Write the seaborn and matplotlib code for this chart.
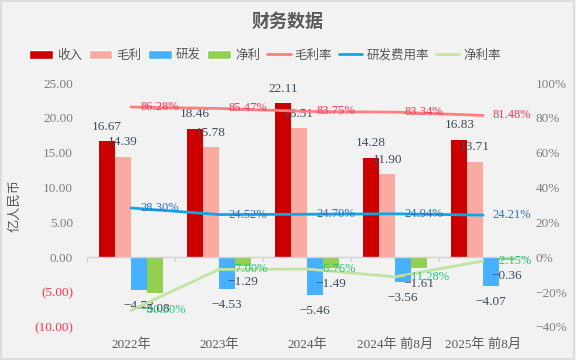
import numpy as np
import pandas as pd
import matplotlib
matplotlib.use("Agg")
import matplotlib.pyplot as plt
from matplotlib.lines import Line2D
from matplotlib.patches import Patch
from matplotlib.ticker import FuncFormatter
import seaborn as sns

# data
periods = ["2022年", "2023年", "2024年", "2024年 前8月", "2025年 前8月"]
revenue = [16.67, 18.46, 22.11, 14.28, 16.83]
gross_profit = [14.39, 15.78, 18.51, 11.90, 13.71]
rnd = [-4.72, -4.53, -5.46, -3.56, -4.07]
net_profit = [-5.08, -1.29, -1.49, -1.61, -0.36]
gross_margin = [86.28, 85.47, 83.75, 83.34, 81.48]
rnd_ratio = [28.30, 24.52, 24.70, 24.94, 24.21]
net_margin = [-30.50, -7.00, -6.76, -11.28, -2.15]

bar_names = ["收入", "毛利", "研发", "净利"]
bar_colors = ["#cc0000", "#fbaaa2", "#45b1ff", "#92d050"]
line_names = ["毛利率", "研发费用率", "净利率"]
line_colors = ["#ff7f80", "#0aa8e8", "#c3e3a0"]
label_colors = ["#ff3355", "#2a70c0", "#22c77a"]

sns.set_style("white")
plt.rcParams["font.family"] = ["Liberation Serif", "Noto Sans CJK SC"]
plt.rcParams["axes.unicode_minus"] = True

df = pd.DataFrame({
    "period": periods * 4,
    "item": sum([[n] * len(periods) for n in bar_names], []),
    "value": revenue + gross_profit + rnd + net_profit,
})

fig = plt.figure(figsize=(5.76, 3.6), dpi=100, facecolor="#f2f2f2")
fig.patches.append(plt.Rectangle((0.002, 0.003), 0.995, 0.993, transform=fig.transFigure,
                                 fill=False, edgecolor="#d9d9d9", linewidth=1.2))
ax = fig.add_axes([0.151, 0.092, 0.764, 0.677])
ax.set_facecolor("#f2f2f2")

sns.barplot(data=df, x="period", y="value", hue="item", hue_order=bar_names,
            palette=bar_colors, width=0.72, gap=0, saturation=1, ax=ax,
            legend=False, errorbar=None, linewidth=0)

ax.set_xlim(-0.5, 4.5)
ax.set_ylim(-10, 25)
ax.set_yticks(np.arange(-10, 26, 5))
ax.yaxis.set_major_formatter(FuncFormatter(
    lambda v, p: f"({abs(v):.2f})" if v < 0 else f"{v:.2f}"))
ax.tick_params(axis="y", length=0, labelsize=9.5, labelcolor="#7f7f7f", pad=10)
ax.tick_params(axis="x", length=0, labelsize=9.5, labelcolor="#595959", pad=8)
ax.set_xlabel("")
ax.set_ylabel("亿人民币", fontsize=9.5, color="#595959")
ax.yaxis.set_label_coords(-0.148, 0.5)
for s in ax.spines.values():
    s.set_visible(False)
ax.axhline(0, color="#d0d0d0", lw=1)
for xb in np.arange(-0.5, 4.6, 1):
    ax.plot([xb, xb], [0, -0.6], color="#d0d0d0", lw=1, clip_on=False)
fig.canvas.draw()
for t in ax.get_yticklabels():
    if t.get_text().startswith("("):
        t.set_color("#ff3355")

# bar value labels
for k, cont in enumerate(ax.containers):
    for rect in cont:
        h = rect.get_height()
        xc = rect.get_x() + rect.get_width() / 2
        off = 10.5 if h >= 0 else -11.5
        ax.annotate(f"{h:.2f}".replace("-", "−"), (xc, h), xytext=(0, off),
                    textcoords="offset points", ha="center", va="center",
                    fontsize=9.5, color="#404b5a")

# rate lines on secondary axis
ax2 = ax.twinx()
ax2.set_ylim(-40, 100)
ax2.set_yticks(np.arange(-40, 101, 20))
ax2.yaxis.set_major_formatter(FuncFormatter(lambda v, p: f"{v:.0f}%".replace("-", "−")))
ax2.tick_params(axis="y", length=0, labelsize=9.5, labelcolor="#7f7f7f", pad=6)
for s in ax2.spines.values():
    s.set_visible(False)
xs = np.arange(len(periods))
for vals, col, lcol in zip([gross_margin, rnd_ratio, net_margin], line_colors, label_colors):
    sns.lineplot(x=xs, y=vals, color=col, linewidth=2, ax=ax2)
    for x, v in zip(xs, vals):
        ax2.annotate(f"{v:.2f}%".replace("-", "−"), (x, v), xytext=(7, 0),
                     textcoords="offset points", ha="left", va="center",
                     fontsize=9, color=lcol)
ax2.set_ylabel("")

fig.text(0.5, 0.94, "财务数据", ha="center", va="center", fontsize=13,
         fontweight="bold", color="#595959")

handles = [Patch(facecolor=c, label=n) for n, c in zip(bar_names, bar_colors)]
handles += [Line2D([0], [0], color=c, lw=2, label=n) for n, c in zip(line_names, line_colors)]
leg = fig.legend(handles=handles, loc="center", bbox_to_anchor=(0.46, 0.845), ncol=7,
                 frameon=False, fontsize=9, handlelength=1.9, handleheight=0.8,
                 columnspacing=0.55, handletextpad=0.3)
for t in leg.get_texts():
    t.set_color("#595959")

fig.savefig("out.png", dpi=100, facecolor=fig.get_facecolor())
